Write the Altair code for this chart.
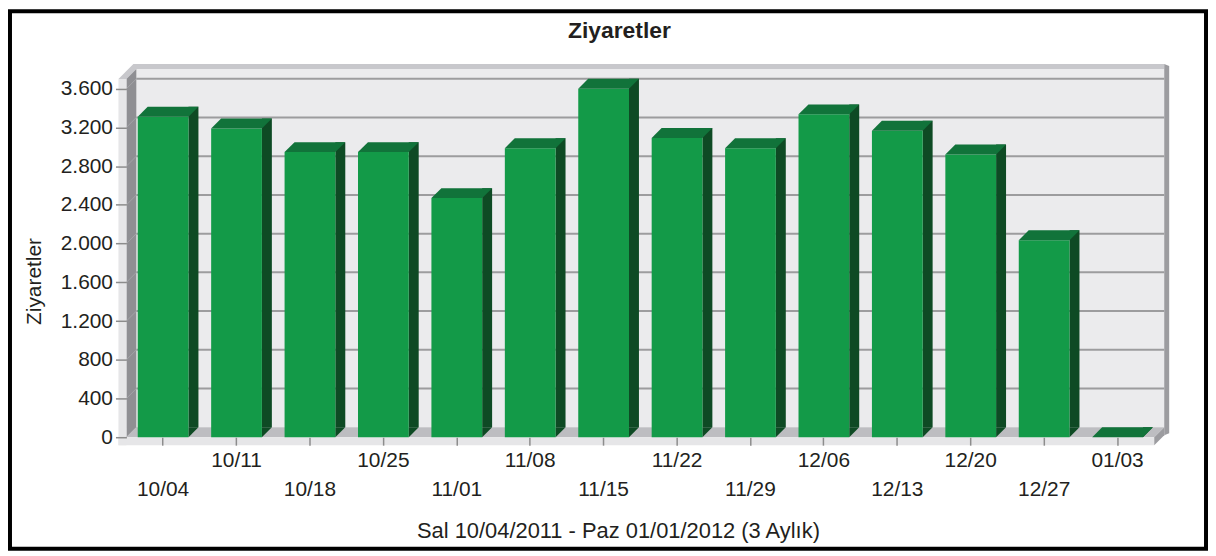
import altair as alt
import pandas as pd

# ---------------- data ----------------
categories = ["10/04", "10/11", "10/18", "10/25", "11/01", "11/08", "11/15",
              "11/22", "11/29", "12/06", "12/13", "12/20", "12/27", "01/03"]
visits = [3310, 3190, 2945, 2945, 2470, 2985, 3600,
          3090, 2985, 3335, 3165, 2920, 2035, 0]
y_ticks = [0, 400, 800, 1200, 1600, 2000, 2400, 2800, 3200, 3600]

chart_title = "Ziyaretler"
y_title = "Ziyaretler"
x_title = "Sal 10/04/2011 - Paz 01/01/2012 (3 Aylık)"

# ---------------- layout / style constants ----------------
W, H = 1033, 360
PAD_L, PAD_T, PAD_R, PAD_B = 119, 70, 54, 114
D = 10            # 3D depth offset (px)
BW = 51           # bar front width (px)
YMAX = 3700
FONT = "Liberation Sans"
TXT = "#231F20"

FRONT = "#139A48"
TOP = "#11733A"
SIDE = "#0E4A24"
WALL = "#EBEBED"
LEFT_WALL = "#8F8F93"
FLOOR = "#BDBDC1"
RIM = "#E6E6E8"
TOP_RIM = "#C8C8CC"
RIGHT_EDGE = "#9C9CA0"
GRID = "#9C9C9E"
TICK = "#8C8C8C"

df = pd.DataFrame({"date": categories, "visits": visits})
grid_df = pd.DataFrame({"visits": y_ticks})
one = pd.DataFrame({"k": [0]})

cat_list = "[" + ",".join("'" + c + "'" for c in categories) + "]"

x_axis = alt.Axis(
    title=x_title, domain=False, grid=False, zindex=1,
    ticks=True, tickSize=8, tickColor=TICK, tickWidth=1.5,
    labelFont=FONT, labelFontSize=21, labelColor=TXT, labelAngle=0,
    labelPadding=4, labelLineHeight=30, labelOverlap=False, labelBound=False,
    labelExpr=f"indexof({cat_list}, datum.value) % 2 == 0 ? ['', datum.label] : datum.label",
    titleFont=FONT, titleFontSize=22, titleFontWeight="normal", titleColor=TXT,
    titleX=494, titleY=94, titleAlign="center", titleBaseline="middle",
)
y_axis = alt.Axis(
    title=y_title, domain=False, grid=False, zindex=1,
    values=y_ticks, tickCount=2 * len(y_ticks),
    ticks=True, tickSize=11, tickColor=TICK, tickWidth=1.5,
    labelFont=FONT, labelFontSize=21, labelColor=TXT, labelPadding=3,
    labelOverlap=False, labelBound=False, labelFlush=False,
    labelExpr="replace(format(datum.value, ','), ',', '.')",
    titleFont=FONT, titleFontSize=21, titleFontWeight="normal", titleColor=TXT,
    titleX=-92, titleY=203, titleAngle=270, titleAlign="center", titleBaseline="middle",
)

X = alt.X("date:N", sort=categories, axis=x_axis,
          scale=alt.Scale(type="band", paddingInner=0, paddingOuter=0))
Y = alt.Y("visits:Q", axis=y_axis, stack=None,
          scale=alt.Scale(domain=[0, YMAX], nice=False, zero=True))


def poly(path, color, stroke=None):
    kw = dict(shape=path, size=4, opacity=1)
    if stroke:
        kw.update(filled=False, stroke=stroke, strokeWidth=1)
    else:
        kw.update(filled=True, fill=color, strokeWidth=0)
    return alt.Chart(one).mark_point(**kw).encode(x=alt.value(0), y=alt.value(0))


def box(x1, x2, y1, y2, color, **kw):
    return alt.Chart(one).mark_rect(color=color, **kw).encode(
        x=alt.value(x1), x2=alt.value(x2), y=alt.value(y1), y2=alt.value(y2))


border = alt.Chart(one).mark_rect(fillOpacity=0, stroke="black", strokeWidth=4).encode(
    x=alt.value(-PAD_L + 2), x2=alt.value(W + PAD_R - 2),
    y=alt.value(-PAD_T + 2), y2=alt.value(H + PAD_B - 2))

back_wall = box(D, W + D, -D, H - D, WALL)
top_rim = poly(f"M-8,0 L7,-15 L{W + D},-15 L{W + D},{-D} L{D},{-D} L0,0 Z", TOP_RIM)
right_edge = poly(f"M{W + D},-15 L{W + D + 5},-13 L{W + D + 5},{H - D + 6} L{W + D},{H - D + 8} Z", RIGHT_EDGE)

grid = alt.Chart(grid_df).transform_filter("datum.visits > 0").mark_rule(
    color=GRID, strokeWidth=2, yOffset=-D).encode(
    y=Y, x=alt.value(D), x2=alt.value(W + D))

left_wall = poly(f"M0,0 L{D},{-D} L{D},{H - D} L0,{H} Z", LEFT_WALL)
left_diag = alt.Chart(grid_df).mark_point(
    shape=f"M0,0 L{D},{-D}", size=4, filled=False, stroke="#A2A2A6",
    strokeWidth=1, opacity=1).encode(x=alt.value(0), y=Y)

floor = poly(f"M0,{H} L{D},{H - D} L{W + D},{H - D} L{W},{H} Z", FLOOR)
floor_front = box(-8, W, H, H + 8, RIM)
floor_right = poly(f"M{W},{H} L{W + D},{H - D} L{W + D},{H - D + 8} L{W},{H + 8} Z", RIGHT_EDGE)
left_front = box(-8, 0, 0, H + 8, RIM)

base = alt.Chart(df)
side = base.mark_bar(size=D, xOffset=BW / 2 + D / 2, yOffset=-D, y2Offset=-D,
                     color=SIDE).encode(x=X, y=Y, y2=alt.datum(0))
foot = base.mark_point(shape=f"M0,0 L{D},{-D} L0,{-D} Z", size=4, filled=True,
                       opacity=1, fill=SIDE, strokeWidth=0, xOffset=BW / 2).encode(
    x=X, y=alt.datum(0))
front = base.mark_bar(size=BW, color=FRONT).encode(x=X, y=Y)
hb = BW / 2
top = base.mark_point(
    shape=f"M{-hb},0 L{-hb + D},{-D} L{hb + D},{-D} L{hb},0 Z",
    size=4, filled=True, opacity=1, fill=TOP, strokeWidth=0).encode(x=X, y=Y)

chart = alt.layer(
    border, back_wall, top_rim, right_edge, grid, left_wall, left_diag,
    floor, floor_front, floor_right, left_front,
    side, foot, front, top,
).properties(
    width=W, height=H,
    title=alt.TitleParams(chart_title, font=FONT, fontSize=23, fontWeight="bold",
                          color=TXT, anchor="middle", frame="group",
                          baseline="alphabetic", dx=-21, dy=52, offset=0),
    autosize=alt.AutoSizeParams(type="none"),
    padding={"left": PAD_L, "top": PAD_T, "right": PAD_R, "bottom": PAD_B},
    background="white",
).configure_view(stroke=None)

chart.save("out.html", embed_options={"renderer": "svg", "actions": False})
